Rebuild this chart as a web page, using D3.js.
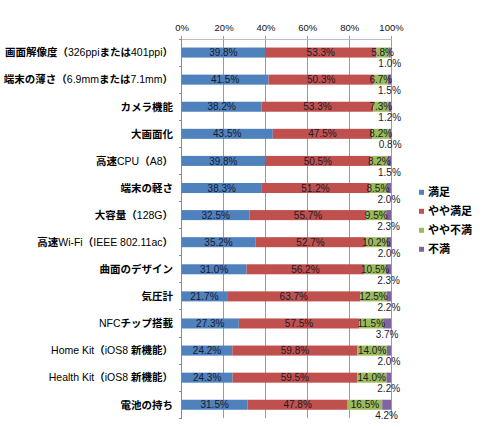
<!DOCTYPE html>
<html>
<head>
<meta charset="utf-8">
<script src="https://cdn.jsdelivr.net/npm/d3@7"></script>
<style>
  html, body { margin: 0; padding: 0; background: #fff; }
  svg { display: block; }
</style>
</head>
<body>
<svg id="chart" width="485" height="427"></svg>
<script>
const categories = [
  "画面解像度（326ppiまたは401ppi）",
  "端末の薄さ（6.9mmまたは7.1mm）",
  "カメラ機能",
  "大画面化",
  "高速CPU（A8）",
  "端末の軽さ",
  "大容量（128G）",
  "高速Wi-Fi（IEEE 802.11ac）",
  "曲面のデザイン",
  "気圧計",
  "NFCチップ搭載",
  "Home Kit（iOS8 新機能）",
  "Health Kit（iOS8 新機能）",
  "電池の持ち"
];
const seriesNames = ["満足", "やや満足", "やや不満", "不満"];
const manzoku     = [39.8, 41.5, 38.2, 43.5, 39.8, 38.3, 32.5, 35.2, 31.0, 21.7, 27.3, 24.2, 24.3, 31.5];
const yayaManzoku = [53.3, 50.3, 53.3, 47.5, 50.5, 51.2, 55.7, 52.7, 56.2, 63.7, 57.5, 59.8, 59.5, 47.8];
const yayaFuman   = [5.8, 6.7, 7.3, 8.2, 8.2, 8.5, 9.5, 10.2, 10.5, 12.5, 11.5, 14.0, 14.0, 16.5];
const fuman       = [1.0, 1.5, 1.2, 0.8, 1.5, 2.0, 2.3, 2.0, 2.3, 2.2, 3.7, 2.0, 2.2, 4.2];
const tickValues  = [0, 20, 40, 60, 80, 100];
const colors = ["#4F81BD", "#C0504D", "#9BBB59", "#8064A2"];

const seriesValues = [manzoku, yayaManzoku, yayaFuman, fuman];
const rows = categories.map((c, i) => {
  const r = { cat: c };
  seriesNames.forEach((s, j) => r[s] = seriesValues[j][i]);
  return r;
});

const svg = d3.select("#chart");
const x = d3.scaleLinear().domain([0, 100]).range([181.7, 391]);
const y = d3.scaleBand().domain(categories).range([39, 418.3]).paddingInner(0.63).paddingOuter(0.315);

// gridlines
svg.append("g").selectAll("line").data(tickValues).join("line")
  .attr("x1", d => x(d)).attr("x2", d => x(d))
  .attr("y1", 36).attr("y2", 418.3)
  .attr("stroke", "#9a9a9a").attr("stroke-width", 1).attr("shape-rendering", "crispEdges");

// top axis
const xAxis = d3.axisTop(x).tickValues(tickValues).tickFormat(d => d + "%").tickSize(0).tickPadding(8);
const gx = svg.append("g").attr("transform", "translate(0,39)").call(xAxis);
gx.select(".domain").attr("stroke", "#bdbdbd").attr("shape-rendering", "crispEdges");
gx.selectAll("text").attr("font-family", "'Liberation Sans', Arial, sans-serif")
  .attr("font-size", 9.5).attr("fill", "#111");

// left axis line & ticks at band boundaries
const step = y.step();
const y0 = y.range()[0];
svg.append("line").attr("x1", x(0)).attr("x2", x(0)).attr("y1", 39).attr("y2", 418.3)
  .attr("stroke", "#8a8a8a").attr("shape-rendering", "crispEdges");
svg.append("g").selectAll("line").data(d3.range(categories.length + 1)).join("line")
  .attr("x1", x(0) - 3).attr("x2", x(0))
  .attr("y1", i => y0 + i * step).attr("y2", i => y0 + i * step)
  .attr("stroke", "#8a8a8a").attr("shape-rendering", "crispEdges");

// stacked bars
const stack = d3.stack().keys(seriesNames);
const stacked = stack(rows);
const gBars = svg.append("g");
stacked.forEach((layer, si) => {
  gBars.append("g").attr("fill", colors[si]).selectAll("rect").data(layer).join("rect")
    .attr("x", d => x(d[0]))
    .attr("width", d => x(d[1]) - x(d[0]))
    .attr("y", d => y(d.data.cat))
    .attr("height", y.bandwidth());
});

// data labels
const gLab = svg.append("g").attr("font-family", "'Liberation Sans', Arial, sans-serif")
  .attr("font-size", 10).attr("fill", "#1a1a2a").attr("text-anchor", "middle");
stacked.forEach((layer, si) => {
  gLab.append("g").selectAll("text").data(layer).join("text")
    .attr("x", d => (x(d[0]) + x(d[1])) / 2)
    .attr("y", d => y(d.data.cat) + y.bandwidth() / 2 + (si === 3 ? 11 : 0))
    .attr("dy", "0.36em")
    .text(d => (d[1] - d[0]).toFixed(1) + "%");
});

// category labels: CJK bold, ASCII normal
const gCat = svg.append("g").attr("text-anchor", "end")
  .attr("font-family", "'Noto Sans CJK JP', sans-serif").attr("font-size", 10.5).attr("fill", "#000");
categories.forEach(c => {
  const t = gCat.append("text").attr("x", 173).attr("y", y(c) + y.bandwidth() / 2).attr("dy", "0.36em");
  const runs = c.match(/[\x20-\x7E]+|[^\x20-\x7E]+/g);
  runs.forEach(r => {
    const ascii = /^[\x20-\x7E]+$/.test(r);
    t.append("tspan").text(r)
      .attr("font-weight", ascii ? 400 : 700)
      .attr("font-family", ascii ? "'Liberation Sans', Arial, sans-serif" : "'Noto Sans CJK JP', sans-serif");
  });
});

// legend
const leg = svg.append("g").attr("transform", "translate(419,192.3)");
seriesNames.forEach((s, i) => {
  const g = leg.append("g").attr("transform", `translate(0,${i * 19})`);
  g.append("rect").attr("x", 0).attr("y", -2.5).attr("width", 5).attr("height", 5).attr("fill", colors[i]);
  g.append("text").attr("x", 9).attr("y", 0).attr("dy", "0.36em")
    .attr("font-family", "'Noto Sans CJK JP', sans-serif").attr("font-weight", 700)
    .attr("font-size", 11).text(s);
});
</script>
</body>
</html>
